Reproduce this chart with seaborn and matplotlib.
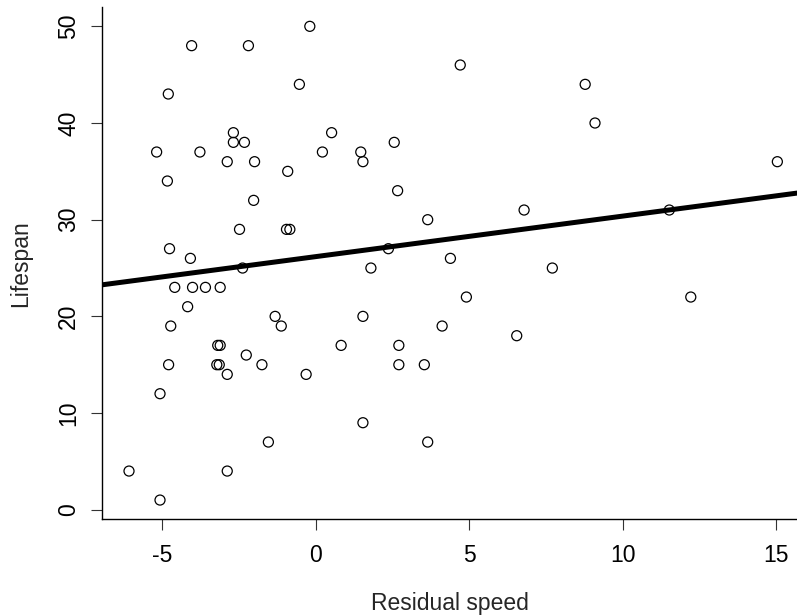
import numpy as np
import pandas as pd
import matplotlib
matplotlib.use("Agg")
import matplotlib.pyplot as plt
import seaborn as sns

# residual speed vs lifespan
residual_speed = [
    -0.20, -4.05, -2.20, -0.54, -4.81, -2.69, 0.51, -2.69, -2.33, -5.19,
    -3.78, 0.21, -2.89, -2.00, -0.92, -4.84, -2.03, -2.49, -0.96, -0.85,
    -4.77, -4.09, -2.39, -4.60, -4.02, -3.60, -3.12, -4.18, -1.33, -4.73,
    -1.13, -3.20, -3.12, -2.27, -4.80, -3.23, -3.15, -1.76, -2.89, -0.32,
    -5.08, -1.55, -6.09, -2.89, -5.08, 4.70, 1.46, 2.55, 1.53, 2.66,
    3.64, 6.78, 2.36, 4.38, 1.79, 7.70, 4.90, 1.53, 4.11, 6.54,
    0.82, 2.70, 2.70, 3.53, 1.53, 3.64, 8.77, 9.09, 15.03, 11.51,
    12.21,
]
lifespan = [
    50, 48, 48, 44, 43, 39, 39, 38, 38, 37,
    37, 37, 36, 36, 35, 34, 32, 29, 29, 29,
    27, 26, 25, 23, 23, 23, 23, 21, 20, 19,
    19, 17, 17, 16, 15, 15, 15, 15, 14, 14,
    12, 7, 4, 4, 1, 46, 37, 38, 36, 33,
    30, 31, 27, 26, 25, 25, 22, 20, 19, 18,
    17, 17, 15, 15, 9, 7, 44, 40, 36, 31,
    22,
]
x_ticks = [-5, 0, 5, 10, 15]
y_ticks = [0, 10, 20, 30, 40, 50]

df = pd.DataFrame({"speed": residual_speed, "life": lifespan})

sns.set_theme(style="ticks")
plt.rcParams["font.family"] = ["Liberation Sans", "DejaVu Sans"]

fig = plt.figure(figsize=(7.97, 6.15), dpi=100)
ax = fig.add_axes([102.3 / 797, 1 - 519.3 / 615, 1 - 102.3 / 797, (519.3 - 7) / 615])

xlim = (-6.96, 15.67)
ylim = (-0.99, 52.0)
ax.set_xlim(xlim)
ax.set_ylim(ylim)

sns.scatterplot(data=df, x="speed", y="life", ax=ax, marker="o", s=52,
                facecolor="none", edgecolor="black", linewidth=0.9, zorder=3)
sns.regplot(data=df, x="speed", y="life", ax=ax, scatter=False, ci=None,
            truncate=False, color="black", line_kws={"lw": 3.6, "zorder": 2})

ax.set_xlim(xlim)
ax.set_ylim(ylim)
ax.set_xticks(x_ticks)
ax.set_yticks(y_ticks)
ax.set_xticklabels([str(v) for v in x_ticks])
ax.set_yticklabels([str(v) for v in y_ticks], rotation=90, va="center")

for side in ["top", "right"]:
    ax.spines[side].set_visible(False)
for side in ["left", "bottom"]:
    ax.spines[side].set_linewidth(1.0)
    ax.spines[side].set_color("black")

ax.tick_params(axis="both", direction="out", length=8, width=0.8,
               color="#333333", labelsize=16.5, labelcolor="black")
ax.tick_params(axis="x", pad=10)
ax.tick_params(axis="y", pad=8)

ax.set_xlabel("Residual speed", fontsize=16.5, labelpad=18)
ax.set_ylabel("Lifespan", fontsize=16.5, labelpad=18)

fig.savefig("out.png", dpi=100, facecolor="white")
